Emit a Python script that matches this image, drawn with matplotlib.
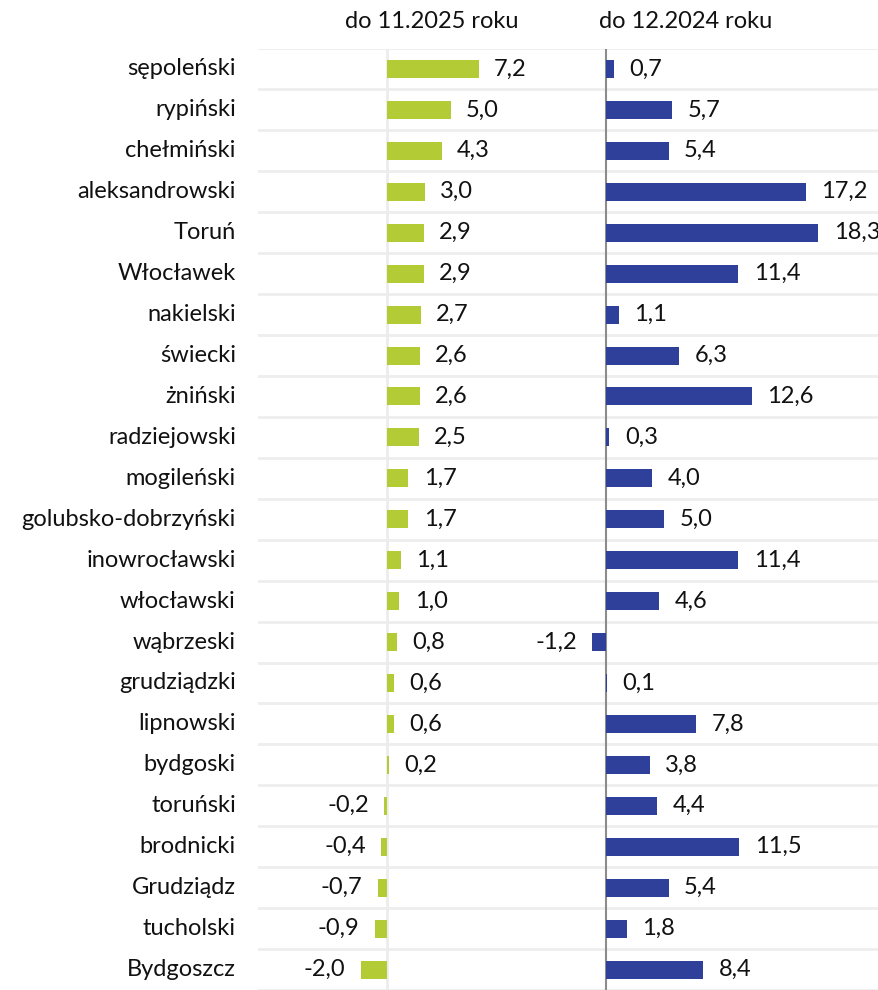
import matplotlib
matplotlib.use("Agg")
import matplotlib.pyplot as plt

plt.rcParams['font.family'] = ['Lato', 'DejaVu Sans']

# Data
regions = ["sępoleński", "rypiński", "chełmiński", "aleksandrowski", "Toruń",
           "Włocławek", "nakielski", "świecki", "żniński", "radziejowski",
           "mogileński", "golubsko-dobrzyński", "inowrocławski", "włocławski",
           "wąbrzeski", "grudziądzki", "lipnowski", "bydgoski", "toruński",
           "brodnicki", "Grudziądz", "tucholski", "Bydgoszcz"]
vals_2025 = [7.2, 5.0, 4.3, 3.0, 2.9, 2.9, 2.7, 2.6, 2.6, 2.5, 1.7, 1.7, 1.1,
             1.0, 0.8, 0.6, 0.6, 0.2, -0.2, -0.4, -0.7, -0.9, -2.0]
vals_2024 = [0.7, 5.7, 5.4, 17.2, 18.3, 11.4, 1.1, 6.3, 12.6, 0.3, 4.0, 5.0,
             11.4, 4.6, -1.2, 0.1, 7.8, 3.8, 4.4, 11.5, 5.4, 1.8, 8.4]
titles = ["do 11.2025 roku", "do 12.2024 roku"]

GREEN = "#b3cb35"
BLUE = "#2e4099"
FS = 17

W, H = 879, 990
fig = plt.figure(figsize=(W / 100, H / 100), dpi=100)

bottom = 1 - 990 / H
top = 1 - 48.5 / H
axL = fig.add_axes([258 / W, bottom, (606 - 258) / W, top - bottom])
axR = fig.add_axes([540 / W, bottom, (879 - 540) / W, top - bottom])
axR.patch.set_alpha(0)

y = list(range(len(regions)))


def fmt(v):
    return f"{v:.1f}".replace(".", ",")


def draw(ax, vals, color, xlim):
    ax.barh(y, vals, height=0.44, color=color, zorder=3)
    ax.set_xlim(*xlim)
    ax.set_ylim(len(regions) - 0.5, -0.5)
    for yi, v in zip(y, vals):
        off = 11 if v >= 0 else -11
        ha = "left" if v >= 0 else "right"
        ax.annotate(fmt(v), (v, yi), xytext=(off, 0), textcoords="offset points",
                    ha=ha, va="center", fontsize=FS, color="#111111")
    ax.set_xticks([])
    ax.set_yticks([])
    for s in ax.spines.values():
        s.set_visible(False)


draw(axL, vals_2025, GREEN, (-128.5 / 12.8, 219.5 / 12.8))
draw(axR, vals_2024, BLUE, (-66 / 11.6, 273 / 11.6))

# horizontal separators between rows
for b in [i - 0.5 for i in range(len(regions) + 1)]:
    axL.axhline(b, color="#eeeeee", lw=2, zorder=1)
    axR.axhline(b, xmin=(606 - 540) / (879 - 540), color="#eeeeee", lw=2, zorder=1)

axL.axvline(0, color="#ececec", lw=2, zorder=1)
axR.axvline(0, color="#8c8c8c", lw=1.5, zorder=2)

# category labels
for yi, name in zip(y, regions):
    axL.annotate(name, (0, yi), xycoords=("axes fraction", "data"),
                 xytext=(-16, 0), textcoords="offset points",
                 ha="right", va="center", fontsize=FS, color="#111111")

fig.text(432 / W, 1 - 21 / H, titles[0], ha="center", va="center", fontsize=FS, color="#111111")
fig.text(686 / W, 1 - 21 / H, titles[1], ha="center", va="center", fontsize=FS, color="#111111")

fig.savefig("out.png", dpi=100)
